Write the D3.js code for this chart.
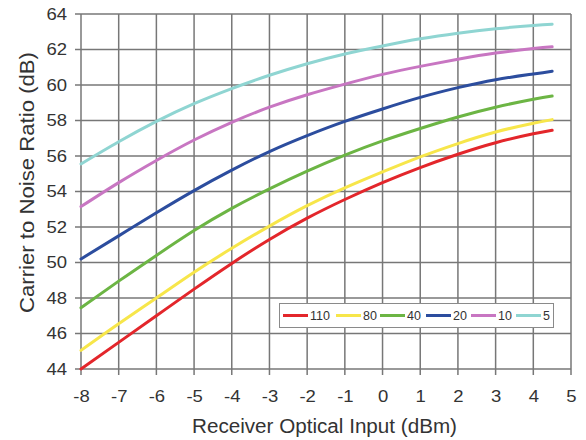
<!DOCTYPE html>
<html>
<head>
<meta charset="utf-8">
<script src="https://cdn.jsdelivr.net/npm/d3@7/dist/d3.min.js"></script>
<style>
  html, body { margin: 0; padding: 0; background: #ffffff; }
  svg { display: block; font-family: "Liberation Sans", Arial, sans-serif; }
</style>
</head>
<body>
<svg id="chart" width="586" height="440"></svg>
<script>
// ---- data ----
const xValues = [-8, -7, -6, -5, -4, -3, -2, -1, 0, 1, 2, 3, 4, 4.5];
const seriesNames = ["110", "80", "40", "20", "10", "5"];
const seriesColors = ["#e3262b", "#f7e64a", "#6cb544", "#2c4d9e", "#c876c2", "#8fd5d2"];
const cnr110 = [44.0, 45.5, 47.0, 48.5, 49.95, 51.3, 52.5, 53.55, 54.5, 55.35, 56.1, 56.75, 57.25, 57.45];
const cnr80  = [45.05, 46.55, 48.0, 49.45, 50.8, 52.05, 53.2, 54.2, 55.1, 55.95, 56.7, 57.35, 57.85, 58.05];
const cnr40  = [47.45, 48.95, 50.4, 51.8, 53.05, 54.15, 55.15, 56.05, 56.85, 57.55, 58.2, 58.75, 59.2, 59.38];
const cnr20  = [50.2, 51.5, 52.8, 54.05, 55.2, 56.25, 57.15, 57.95, 58.65, 59.3, 59.85, 60.3, 60.62, 60.78];
const cnr10  = [53.15, 54.5, 55.75, 56.9, 57.9, 58.75, 59.45, 60.05, 60.6, 61.05, 61.45, 61.8, 62.05, 62.15];
const cnr5   = [55.55, 56.8, 57.95, 58.95, 59.8, 60.55, 61.2, 61.75, 62.2, 62.6, 62.92, 63.17, 63.35, 63.42];
const seriesValues = [cnr110, cnr80, cnr40, cnr20, cnr10, cnr5];
const xTicks = [-8, -7, -6, -5, -4, -3, -2, -1, 0, 1, 2, 3, 4, 5];
const yTicks = [44, 46, 48, 50, 52, 54, 56, 58, 60, 62, 64];
const xTitle = "Receiver Optical Input (dBm)";
const yTitle = "Carrier to Noise Ratio (dB)";

// ---- layout ----
const svg = d3.select("#chart");
const pLeft = 81, pRight = 571, pTop = 14, pBottom = 369;
const x = d3.scaleLinear().domain([-8, 5]).range([pLeft, pRight]);
const y = d3.scaleLinear().domain([44, 64]).range([pBottom, pTop]);
const gridColor = "#777777";
const textColor = "#333333";

// grid
const grid = svg.append("g");
grid.selectAll("line.vx").data(xTicks).enter().append("line")
  .attr("x1", d => x(d)).attr("x2", d => x(d))
  .attr("y1", pTop).attr("y2", pBottom + 6)
  .attr("stroke", gridColor).attr("stroke-width", 1.5);
grid.selectAll("line.hy").data(yTicks).enter().append("line")
  .attr("x1", pLeft - 6).attr("x2", pRight)
  .attr("y1", d => y(d)).attr("y2", d => y(d))
  .attr("stroke", gridColor).attr("stroke-width", 1.5);

function stretch(sel, k) {
  sel.each(function () {
    const w = this.getComputedTextLength();
    d3.select(this).attr("textLength", w * k).attr("lengthAdjust", "spacingAndGlyphs");
  });
}

// axes via d3 (labels only)
const xAxis = d3.axisBottom(x).tickValues(xTicks).tickSize(0).tickPadding(0).tickFormat(d => String(d));
const gx = svg.append("g").attr("transform", `translate(0,${pBottom})`).call(xAxis);
gx.select(".domain").remove();
gx.selectAll("text").attr("font-size", 16.5).attr("fill", textColor)
  .attr("font-family", "Liberation Sans, Arial, sans-serif")
  .attr("dy", null).attr("y", 33);
stretch(gx.selectAll("text"), 1.12);

const yAxis = d3.axisLeft(y).tickValues(yTicks).tickSize(0).tickPadding(14).tickFormat(d => String(d));
const gy = svg.append("g").attr("transform", `translate(${pLeft},0)`).call(yAxis);
gy.select(".domain").remove();
gy.selectAll("text").attr("font-size", 16.5).attr("fill", textColor)
  .attr("font-family", "Liberation Sans, Arial, sans-serif");
stretch(gy.selectAll("text"), 1.12);

// titles
const xt = svg.append("text").attr("x", 324.5).attr("y", 433)
  .attr("text-anchor", "middle").attr("font-size", 20).attr("fill", textColor)
  .text(xTitle);
xt.attr("textLength", 265).attr("lengthAdjust", "spacingAndGlyphs");
svg.append("text")
  .attr("transform", `translate(33.5,182.5) rotate(-90)`)
  .attr("text-anchor", "middle").attr("font-size", 21).attr("fill", textColor)
  .attr("textLength", 261).attr("lengthAdjust", "spacingAndGlyphs")
  .text(yTitle);

// lines
const line = d3.line().x(d => x(d[0])).y(d => y(d[1])).curve(d3.curveNatural);
seriesValues.forEach((vals, i) => {
  svg.append("path")
    .datum(xValues.map((xv, j) => [xv, vals[j]]))
    .attr("fill", "none").attr("stroke", seriesColors[i])
    .attr("stroke-width", 3).attr("stroke-linecap", "round")
    .attr("d", line);
});

// legend
const lg = svg.append("g");
lg.append("rect").attr("x", 279.5).attr("y", 303.5).attr("width", 274).attr("height", 24)
  .attr("fill", "#fff").attr("stroke", "#8a8a8a").attr("stroke-width", 1);
const legendStarts = [283, 336, 380, 426, 471, 516];
seriesNames.forEach((name, i) => {
  const lx = legendStarts[i];
  lg.append("line").attr("x1", lx).attr("x2", lx + 25).attr("y1", 315.5).attr("y2", 315.5)
    .attr("stroke", seriesColors[i]).attr("stroke-width", 3);
  lg.append("text").attr("x", lx + 27).attr("y", 320).attr("font-size", 12.5)
    .attr("fill", textColor).text(name);
});
</script>
</body>
</html>
